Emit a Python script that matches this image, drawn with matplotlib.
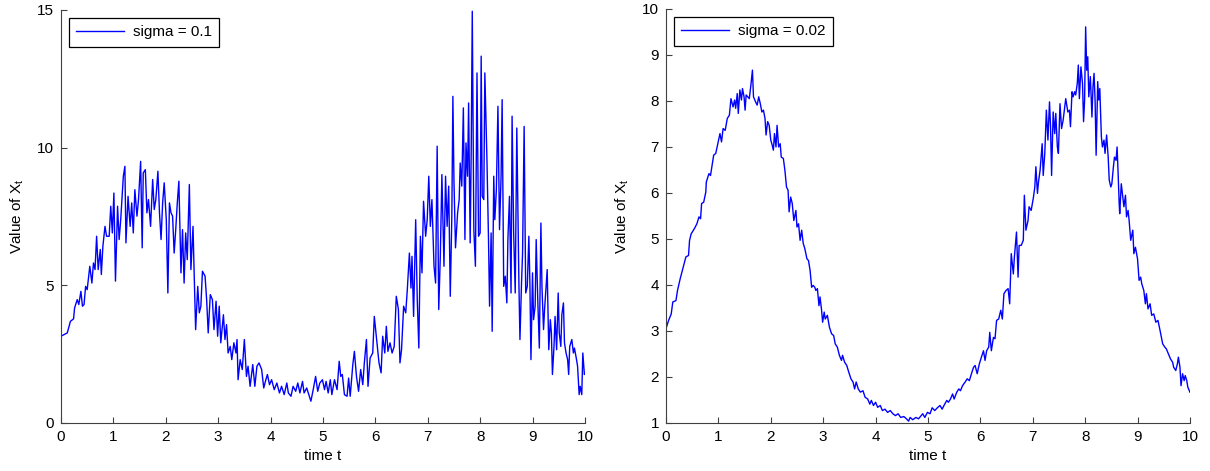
import numpy as np
import matplotlib
matplotlib.use("Agg")
from matplotlib import pyplot as plt

plt.rcParams['font.family'] = ['Liberation Sans', 'DejaVu Sans']
plt.rcParams['mathtext.default'] = 'regular'

# sigma = 0.1 path
t1 = [0, 0.12, 0.18, 0.24, 0.26, 0.31, 0.34, 0.38, 0.41, 0.44, 0.47, 0.50, 0.55, 0.59, 0.62, 0.65,
      0.68, 0.71, 0.75, 0.77, 0.80, 0.84, 0.87, 0.92, 0.95, 0.98, 1.01, 1.04, 1.08, 1.11, 1.14, 1.19,
      1.22, 1.24, 1.28, 1.32, 1.35, 1.38, 1.41, 1.45, 1.48, 1.52, 1.55, 1.57, 1.61, 1.64, 1.67, 1.71,
      1.75, 1.78, 1.81, 1.85, 1.88, 1.91, 1.94, 1.97, 2.01, 2.04, 2.07, 2.10, 2.13, 2.16, 2.19, 2.22,
      2.25, 2.29, 2.32, 2.35, 2.38, 2.41, 2.45, 2.48, 2.52, 2.54, 2.57, 2.61, 2.64, 2.67, 2.70, 2.75,
      2.78, 2.81, 2.85, 2.89, 2.92, 2.96, 2.99, 3.02, 3.05, 3.10, 3.13, 3.16, 3.19, 3.23, 3.26, 3.30,
      3.34, 3.36, 3.38, 3.42, 3.46, 3.50, 3.54, 3.57, 3.61, 3.66, 3.70, 3.74, 3.78, 3.83, 3.87, 3.91,
      3.94, 3.98, 4.02, 4.07, 4.12, 4.17, 4.21, 4.26, 4.31, 4.34, 4.39, 4.43, 4.48, 4.52, 4.56, 4.61,
      4.64, 4.69, 4.74, 4.77, 4.82, 4.86, 4.90, 4.94, 4.99, 5.03, 5.06, 5.10, 5.14, 5.17, 5.22, 5.27,
      5.31, 5.34, 5.37, 5.41, 5.46, 5.49, 5.52, 5.57, 5.60, 5.64, 5.68, 5.72, 5.76, 5.79, 5.83, 5.86,
      5.90, 5.95, 5.98, 6.03, 6.07, 6.11, 6.14, 6.18, 6.21, 6.24, 6.28, 6.32, 6.36, 6.40, 6.44, 6.47,
      6.50, 6.54, 6.58, 6.61, 6.65, 6.68, 6.70, 6.73, 6.77, 6.80, 6.83, 6.86, 6.89, 6.92, 6.96, 6.99,
      7.02, 7.05, 7.08, 7.12, 7.15, 7.18, 7.21, 7.24, 7.27, 7.31, 7.34, 7.37, 7.40, 7.43, 7.46, 7.48,
      7.50, 7.53, 7.57, 7.60, 7.62, 7.65, 7.68, 7.71, 7.73, 7.76, 7.78, 7.81, 7.83, 7.85, 7.88, 7.91,
      7.94, 7.97, 8.00, 8.02, 8.04, 8.07, 8.09, 8.13, 8.16, 8.18, 8.21, 8.23, 8.26, 8.28, 8.31, 8.34,
      8.37, 8.40, 8.42, 8.45, 8.48, 8.51, 8.53, 8.56, 8.59, 8.61, 8.64, 8.67, 8.70, 8.74, 8.76, 8.79,
      8.81, 8.84, 8.87, 8.90, 8.93, 8.95, 8.97, 9.00, 9.02, 9.05, 9.07, 9.10, 9.13, 9.16, 9.18, 9.21,
      9.23, 9.26, 9.28, 9.31, 9.34, 9.36, 9.38, 9.41, 9.43, 9.46, 9.49, 9.51, 9.54, 9.56, 9.59, 9.61,
      9.64, 9.67, 9.69, 9.71, 9.75, 9.78, 9.80, 9.84, 9.86, 9.89, 9.91, 9.94, 9.96, 9.99, 10.0]
x1 = [3.15, 3.27, 3.69, 3.78, 4.18, 4.48, 4.30, 4.78, 4.24, 4.30, 4.96, 4.84, 5.69, 5.08, 5.81, 5.57,
      6.78, 5.57, 6.30, 5.39, 6.42, 7.14, 6.78, 6.78, 7.87, 6.90, 8.35, 5.15, 7.87, 6.66, 7.38, 8.96,
      9.32, 6.54, 8.23, 7.14, 7.99, 6.90, 8.47, 7.51, 8.11, 9.50, 6.36, 9.08, 9.20, 7.63, 8.11, 7.14,
      8.84, 7.75, 8.11, 9.14, 7.63, 6.66, 7.99, 8.72, 7.38, 4.72, 7.99, 7.63, 7.51, 6.17, 7.02, 7.99,
      8.78, 5.45, 7.02, 5.08, 6.90, 5.93, 8.66, 5.57, 7.14, 5.57, 3.39, 4.96, 4.00, 4.24, 5.51, 5.33,
      4.48, 3.27, 4.66, 4.48, 3.39, 4.42, 3.15, 4.24, 2.91, 3.93, 3.03, 3.57, 2.54, 2.78, 2.30, 2.91,
      2.54, 3.03, 1.57, 2.30, 1.94, 3.03, 1.69, 2.06, 1.33, 2.12, 1.33, 2.06, 2.18, 1.94, 1.27, 1.57,
      1.76, 1.39, 1.57, 1.21, 1.45, 1.09, 1.33, 1.03, 1.45, 1.09, 0.97, 1.33, 1.15, 1.45, 1.09, 1.51,
      1.09, 1.27, 0.97, 0.79, 1.27, 1.69, 1.15, 1.45, 1.57, 1.21, 1.51, 1.09, 1.57, 1.03, 1.57, 1.21,
      2.24, 1.69, 1.76, 1.03, 0.97, 1.63, 0.97, 2.12, 2.60, 1.69, 1.15, 1.94, 1.39, 2.18, 3.03, 1.33,
      2.36, 2.54, 3.87, 2.91, 2.18, 1.82, 3.15, 2.54, 3.51, 2.60, 2.91, 2.54, 2.78, 4.60, 4.12, 2.18,
      2.66, 4.24, 4.00, 4.84, 6.17, 4.90, 6.05, 3.87, 7.38, 4.48, 2.72, 6.78, 5.45, 8.05, 6.78, 7.38,
      8.96, 7.14, 8.11, 5.69, 5.08, 10.05, 4.12, 6.05, 9.02, 5.69, 8.96, 7.14, 8.60, 4.60, 7.51, 11.86,
      8.84, 6.36, 7.63, 8.11, 9.44, 8.60, 11.44, 6.66, 10.17, 8.96, 11.62, 6.54, 9.93, 14.95, 7.02, 5.69,
      12.71, 6.78, 6.90, 13.32, 8.23, 8.11, 12.71, 9.56, 6.66, 4.24, 6.90, 3.33, 8.96, 7.38, 8.47, 11.50,
      7.02, 8.96, 11.74, 4.96, 5.33, 4.36, 6.66, 8.23, 4.72, 11.14, 6.90, 4.72, 10.71, 5.08, 3.03, 5.08,
      6.17, 10.77, 4.72, 4.96, 6.78, 5.08, 2.30, 5.45, 3.75, 4.24, 6.66, 4.48, 2.72, 7.26, 4.96, 3.39,
      4.12, 4.96, 5.57, 2.66, 3.75, 3.27, 1.76, 2.78, 3.87, 2.66, 4.72, 3.27, 2.78, 3.93, 4.36, 2.91,
      2.54, 2.30, 1.76, 2.78, 3.03, 2.54, 2.72, 2.30, 2.06, 1.03, 1.33, 1.03, 2.54, 1.76, 1.82]

# sigma = 0.02 path
t2 = [0, 0.05, 0.10, 0.13, 0.19, 0.22, 0.27, 0.33, 0.38, 0.43, 0.45, 0.48, 0.54, 0.59, 0.63, 0.66,
      0.68, 0.72, 0.76, 0.77, 0.82, 0.85, 0.88, 0.91, 0.95, 0.99, 1.03, 1.06, 1.09, 1.13, 1.17, 1.21,
      1.24, 1.28, 1.31, 1.33, 1.36, 1.38, 1.41, 1.44, 1.46, 1.49, 1.51, 1.53, 1.56, 1.59, 1.62, 1.65,
      1.67, 1.71, 1.74, 1.77, 1.80, 1.83, 1.86, 1.89, 1.91, 1.94, 1.97, 2.00, 2.02, 2.05, 2.07, 2.10,
      2.12, 2.15, 2.18, 2.20, 2.24, 2.27, 2.30, 2.33, 2.35, 2.38, 2.41, 2.44, 2.48, 2.50, 2.53, 2.56,
      2.59, 2.62, 2.65, 2.69, 2.72, 2.75, 2.78, 2.81, 2.84, 2.86, 2.89, 2.92, 2.94, 2.97, 2.99, 3.02,
      3.04, 3.08, 3.12, 3.16, 3.20, 3.23, 3.27, 3.31, 3.35, 3.37, 3.41, 3.45, 3.49, 3.53, 3.57, 3.60,
      3.63, 3.67, 3.71, 3.76, 3.80, 3.85, 3.89, 3.92, 3.96, 4.00, 4.04, 4.09, 4.13, 4.18, 4.23, 4.28,
      4.33, 4.38, 4.43, 4.48, 4.54, 4.59, 4.63, 4.66, 4.71, 4.77, 4.82, 4.87, 4.90, 4.94, 4.99, 5.04,
      5.08, 5.13, 5.18, 5.23, 5.27, 5.32, 5.36, 5.39, 5.43, 5.47, 5.50, 5.55, 5.59, 5.62, 5.66, 5.71,
      5.75, 5.79, 5.83, 5.87, 5.90, 5.94, 5.98, 6.02, 6.06, 6.09, 6.12, 6.16, 6.18, 6.21, 6.25, 6.28,
      6.31, 6.35, 6.39, 6.42, 6.45, 6.49, 6.53, 6.56, 6.59, 6.63, 6.65, 6.69, 6.72, 6.74, 6.78, 6.82,
      6.84, 6.87, 6.91, 6.93, 6.97, 7.01, 7.04, 7.06, 7.09, 7.11, 7.14, 7.18, 7.20, 7.23, 7.26, 7.29,
      7.32, 7.34, 7.36, 7.39, 7.42, 7.44, 7.47, 7.49, 7.52, 7.55, 7.58, 7.61, 7.63, 7.67, 7.70, 7.72,
      7.75, 7.77, 7.80, 7.82, 7.85, 7.87, 7.89, 7.92, 7.95, 7.97, 7.99, 8.01, 8.03, 8.05, 8.07, 8.10,
      8.13, 8.15, 8.17, 8.19, 8.21, 8.24, 8.26, 8.28, 8.31, 8.33, 8.36, 8.38, 8.41, 8.44, 8.46, 8.49,
      8.51, 8.54, 8.56, 8.59, 8.61, 8.63, 8.65, 8.66, 8.69, 8.72, 8.74, 8.77, 8.79, 8.82, 8.84, 8.87,
      8.91, 8.93, 8.96, 9.00, 9.03, 9.06, 9.08, 9.12, 9.15, 9.17, 9.20, 9.24, 9.27, 9.31, 9.35, 9.39,
      9.43, 9.48, 9.52, 9.55, 9.59, 9.63, 9.67, 9.69, 9.73, 9.76, 9.78, 9.81, 9.83, 9.86, 9.89, 9.91,
      9.94, 9.96, 10.0]
x2 = [3.05, 3.23, 3.37, 3.63, 3.66, 3.88, 4.13, 4.39, 4.61, 4.64, 4.97, 5.11, 5.22, 5.33, 5.48, 5.44,
      5.77, 5.80, 6.02, 6.24, 6.42, 6.38, 6.60, 6.82, 6.86, 7.07, 7.29, 7.11, 7.40, 7.36, 7.62, 7.69,
      8.05, 7.87, 8.02, 7.84, 8.16, 7.73, 8.24, 8.02, 8.27, 8.09, 7.80, 8.13, 8.09, 8.05, 8.34, 8.67,
      8.09, 7.98, 7.91, 8.09, 7.94, 7.76, 7.80, 7.62, 7.26, 7.55, 7.47, 7.15, 7.07, 6.93, 7.29, 7.00,
      7.47, 7.00, 7.07, 6.78, 6.75, 6.49, 6.13, 6.06, 5.59, 5.91, 5.77, 5.40, 5.62, 5.26, 5.33, 4.97,
      5.19, 4.90, 4.79, 4.57, 4.53, 4.32, 3.95, 3.99, 3.95, 3.88, 3.92, 3.55, 3.74, 3.45, 3.19, 3.41,
      3.26, 3.34, 3.08, 2.94, 2.90, 2.72, 2.65, 2.47, 2.36, 2.47, 2.32, 2.25, 2.10, 1.96, 1.89, 1.74,
      1.89, 1.74, 1.67, 1.70, 1.56, 1.52, 1.41, 1.49, 1.38, 1.45, 1.34, 1.38, 1.27, 1.30, 1.23, 1.27,
      1.20, 1.16, 1.20, 1.12, 1.14, 1.09, 1.04, 1.12, 1.07, 1.12, 1.09, 1.16, 1.20, 1.12, 1.23, 1.20,
      1.33, 1.27, 1.33, 1.38, 1.30, 1.41, 1.49, 1.45, 1.52, 1.63, 1.52, 1.67, 1.74, 1.70, 1.81, 1.89,
      1.96, 1.92, 2.07, 2.21, 2.25, 2.07, 2.28, 2.43, 2.57, 2.36, 2.57, 2.65, 2.97, 2.57, 2.86, 2.83,
      3.23, 3.26, 3.45, 3.26, 3.81, 3.88, 3.92, 3.59, 4.68, 4.24, 4.61, 5.15, 4.17, 4.86, 4.86, 4.97,
      5.95, 5.19, 5.40, 5.70, 5.62, 5.88, 6.13, 6.57, 5.99, 6.24, 6.49, 7.07, 6.38, 6.86, 7.80, 7.15,
      7.98, 7.44, 6.38, 7.76, 7.29, 7.73, 7.00, 6.86, 7.94, 7.40, 7.58, 7.87, 8.05, 7.76, 7.80, 7.44,
      8.20, 8.09, 8.20, 8.13, 8.38, 8.78, 8.05, 8.74, 8.38, 7.55, 8.02, 9.61, 8.67, 8.96, 8.09, 8.53,
      7.65, 8.31, 8.60, 8.02, 6.82, 8.42, 8.02, 8.27, 7.22, 7.00, 7.15, 6.86, 7.26, 6.78, 6.28, 6.13,
      6.20, 6.57, 6.78, 6.71, 7.00, 6.42, 5.77, 5.55, 6.20, 5.91, 5.70, 5.95, 5.48, 5.62, 5.40, 4.97,
      5.19, 4.68, 4.82, 4.57, 4.10, 4.17, 4.03, 3.88, 3.59, 3.81, 3.48, 3.59, 3.34, 3.37, 3.19, 3.23,
      3.01, 2.72, 2.65, 2.61, 2.50, 2.39, 2.32, 2.21, 2.14, 2.28, 2.43, 2.21, 1.81, 2.07, 1.92, 2.03,
      1.92, 1.78, 1.67]

labels = ['sigma = 0.1', 'sigma = 0.02']
yticks1 = [0, 5, 10, 15]
yticks2 = list(range(1, 11))
xticks = list(range(0, 11))

fig = plt.figure(figsize=(12.1, 4.71), dpi=100)
ax1 = fig.add_axes([0.0504, 0.102, 0.433, 0.877])
ax2 = fig.add_axes([0.5504, 0.102, 0.433, 0.879])

for ax, t, x, lab, yt in [(ax1, t1, x1, labels[0], yticks1), (ax2, t2, x2, labels[1], yticks2)]:
    ax.plot(t, x, color='#0000ff', lw=1.0, label=lab)
    ax.set_xlim(0, 10)
    ax.set_ylim(yt[0], yt[-1])
    ax.set_xticks(xticks)
    ax.set_yticks(yt)
    ax.spines['top'].set_visible(False)
    ax.spines['right'].set_visible(False)
    for s in ['left', 'bottom']:
        ax.spines[s].set_color('#404040')
        ax.spines[s].set_linewidth(0.8)
    ax.tick_params(direction='in', length=4, width=0.8, color='#404040', labelsize=11, pad=5)
    ax.set_xlabel('time t', fontsize=11, labelpad=4)
    ax.set_ylabel('Value of X$_t$', fontsize=11, labelpad=8)
    leg = ax.legend(loc='upper left', fontsize=11, fancybox=False, handlelength=3.1,
                    handletextpad=0.6, borderaxespad=0.5, borderpad=0.5, framealpha=1)
    leg.get_frame().set_edgecolor('black')
    leg.get_frame().set_linewidth(0.9)

fig.savefig('out.png', dpi=100)
